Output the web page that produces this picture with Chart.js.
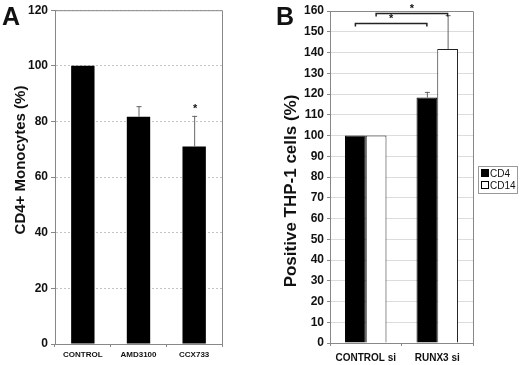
<!DOCTYPE html>
<html>
<head>
<meta charset="utf-8">
<script src="https://cdn.jsdelivr.net/npm/chart.js@4"></script>
<style>
  body { margin: 0; background: #fff; font-family: "Liberation Sans", Arial, sans-serif; }
  #wrap { position: relative; width: 520px; height: 365px; }
  .panel { position: absolute; top: 0; width: 260px; height: 365px; }
  .letter { position: absolute; font-weight: bold; font-size: 25px; color: #111; line-height: 1; }
  #legendB { position: absolute; left: 478px; top: 166px; width: 36px; border: 1px solid #999; font-size: 10px; color: #111; padding: 1px 0 1px 2px; }
  #legendB div { height: 12px; line-height: 12px; white-space: nowrap; }
  #legendB span { display: inline-block; width: 6px; height: 6px; border: 1px solid #000; margin-right: 1px; vertical-align: 0; }
</style>
</head>
<body>
<div id="wrap">
  <div class="panel" style="left:0"><canvas id="chartA" width="260" height="365"></canvas></div>
  <div class="panel" style="left:260px"><canvas id="chartB" width="260" height="365"></canvas></div>
  <div class="letter" style="left:2px; top:4px">A</div>
  <div class="letter" style="left:276px; top:4px">B</div>
  <div id="legendB"></div>
</div>
<script>
// panel A
const labelsA = ['CONTROL', 'AMD3100', 'CCX733'];
const valuesA = [100, 81.7, 71];
const errorsA = [0, 3.8, 11];
const starsA = ['', '', '*'];

// panel B
const labelsB = ['CONTROL si', 'RUNX3 si'];
const seriesB = ['CD4', 'CD14'];
const cd4 = [100, 118.3];
const cd14 = [100, 141.7];
const cd4Err = [0, 2.7];
const cd14Err = [0, 16.3];
// brackets: [dataset, from category, to category, y value]
const bracketsB = [[0, 0, 1, 154.3], [1, 0, 1, 159.2]];

const textColor = '#111';
const fontFamily = '"Liberation Sans", Arial';

function fixAxis(size) {
    return function (scale) {
        if (scale.isHorizontal()) scale.height = size; else scale.width = size;
    };
}

const errorBars = {
    id: 'errorBars',
    afterDatasetsDraw(chart) {
        const ctx = chart.ctx;
        const y = chart.scales.y;
        ctx.save();
        chart.data.datasets.forEach((ds, di) => {
            if (!ds.errors) return;
            chart.getDatasetMeta(di).data.forEach((bar, i) => {
                const err = ds.errors[i];
                if (err) {
                    const top = y.getPixelForValue(ds.data[i] + err);
                    ctx.strokeStyle = '#666';
                    ctx.lineWidth = 1;
                    ctx.beginPath();
                    ctx.moveTo(bar.x + 0.5, bar.y);
                    ctx.lineTo(bar.x + 0.5, top);
                    ctx.moveTo(bar.x - 2, top + 0.5);
                    ctx.lineTo(bar.x + 3, top + 0.5);
                    ctx.stroke();
                    if (ds.stars && ds.stars[i]) {
                        ctx.fillStyle = textColor;
                        ctx.font = 'bold 11px ' + fontFamily;
                        ctx.textAlign = 'center';
                        ctx.textBaseline = 'bottom';
                        ctx.fillText(ds.stars[i], bar.x + 1, top - 1);
                    }
                }
            });
        });
        ctx.restore();
    }
};

// closes the plot frame and writes the rotated y title
const plotBox = {
    id: 'plotBox',
    afterDraw(chart) {
        const a = chart.chartArea;
        const ctx = chart.ctx;
        ctx.save();
        ctx.strokeStyle = '#888';
        ctx.lineWidth = 1;
        ctx.beginPath();
        ctx.moveTo(a.left, a.top + 0.5);
        ctx.lineTo(a.right + 0.5, a.top + 0.5);
        ctx.lineTo(a.right + 0.5, a.bottom);
        ctx.stroke();
        const t = chart.options.plugins.plotBox;
        if (t && t.title) {
            ctx.translate(t.x, t.y);
            ctx.rotate(-Math.PI / 2);
            ctx.fillStyle = textColor;
            ctx.font = 'bold ' + t.size + 'px ' + fontFamily;
            ctx.textAlign = 'center';
            ctx.textBaseline = 'middle';
            ctx.fillText(t.title, 0, 0);
        }
        ctx.restore();
    }
};

const brackets = {
    id: 'brackets',
    afterDraw(chart) {
        if (!chart.options.plugins.brackets) return;
        const ctx = chart.ctx;
        const y = chart.scales.y;
        ctx.save();
        chart.options.plugins.brackets.list.forEach(b => {
            const meta = chart.getDatasetMeta(b[0]);
            const x1 = meta.data[b[1]].x, x2 = meta.data[b[2]].x;
            const py = Math.round(y.getPixelForValue(b[3])) + 0.5;
            ctx.strokeStyle = '#222';
            ctx.lineWidth = 1.5;
            ctx.beginPath();
            ctx.moveTo(x1, py + 3);
            ctx.lineTo(x1, py);
            ctx.lineTo(x2, py);
            ctx.lineTo(x2, py + 3);
            ctx.stroke();
            ctx.fillStyle = textColor;
            ctx.font = 'bold 11px ' + fontFamily;
            ctx.textAlign = 'center';
            ctx.textBaseline = 'bottom';
            ctx.fillText('*', (x1 + x2) / 2, py + 1);
        });
        ctx.restore();
    }
};

new Chart(document.getElementById('chartA'), {
    type: 'bar',
    data: {
        labels: labelsA,
        datasets: [{
            data: valuesA,
            errors: errorsA,
            stars: starsA,
            backgroundColor: '#000',
            barPercentage: 0.42,
            categoryPercentage: 1
        }]
    },
    options: {
        responsive: false,
        animation: false,
        layout: { padding: { left: 0, right: 38, top: 10, bottom: 0 } },
        plugins: {
            legend: { display: false },
            tooltip: { enabled: false },
            plotBox: { title: 'CD4+ Monocytes (%)', size: 15, x: 21, y: 160 }
        },
        scales: {
            y: {
                min: 0, max: 120,
                afterFit: fixAxis(55),
                ticks: { stepSize: 20, padding: 3, color: textColor, font: { family: fontFamily, size: 12, weight: 'bold' } },
                grid: { color: '#c4c4c4', tickColor: '#888', tickLength: 4 },
                border: { color: '#888', dash: [2, 2] }
            },
            x: {
                afterFit: fixAxis(21),
                ticks: { padding: 3, color: textColor, font: { family: fontFamily, size: 8, weight: 'bold' } },
                grid: { drawOnChartArea: false, color: '#888', tickLength: 3 },
                border: { color: '#888' }
            }
        }
    },
    plugins: [errorBars, plotBox]
});

const chartB = new Chart(document.getElementById('chartB'), {
    type: 'bar',
    data: {
        labels: labelsB,
        datasets: [{
            label: seriesB[0],
            data: cd4,
            errors: cd4Err,
            backgroundColor: '#000',
            borderColor: '#000',
            borderWidth: 1
        }, {
            label: seriesB[1],
            data: cd14,
            errors: cd14Err,
            backgroundColor: '#fff',
            borderColor: '#222',
            borderWidth: 1
        }]
    },
    options: {
        responsive: false,
        animation: false,
        datasets: { bar: { barPercentage: 1, categoryPercentage: 0.58 } },
        layout: { padding: { left: 0, right: 47, top: 11, bottom: 0 } },
        plugins: {
            legend: { display: false },
            tooltip: { enabled: false },
            brackets: { list: bracketsB },
            plotBox: { title: 'Positive THP-1 cells (%)', size: 17, x: 31, y: 191 }
        },
        scales: {
            y: {
                min: 0, max: 160,
                afterFit: fixAxis(70),
                ticks: { stepSize: 10, padding: 3, color: textColor, font: { family: fontFamily, size: 12, weight: 'bold' } },
                grid: { color: '#dcdcdc', tickColor: '#888', tickLength: 3 },
                border: { color: '#888' }
            },
            x: {
                afterFit: fixAxis(22),
                ticks: { padding: 6, color: textColor, font: { family: fontFamily, size: 10, weight: 'bold' } },
                grid: { drawOnChartArea: false, color: '#888', tickLength: 3 },
                border: { color: '#888' }
            }
        }
    },
    plugins: [errorBars, plotBox, brackets]
});

// legend for panel B
const legendB = document.getElementById('legendB');
chartB.data.datasets.forEach(ds => {
    const row = document.createElement('div');
    const sw = document.createElement('span');
    sw.style.background = ds.backgroundColor;
    row.appendChild(sw);
    row.appendChild(document.createTextNode(ds.label));
    legendB.appendChild(row);
});
</script>
</body>
</html>
